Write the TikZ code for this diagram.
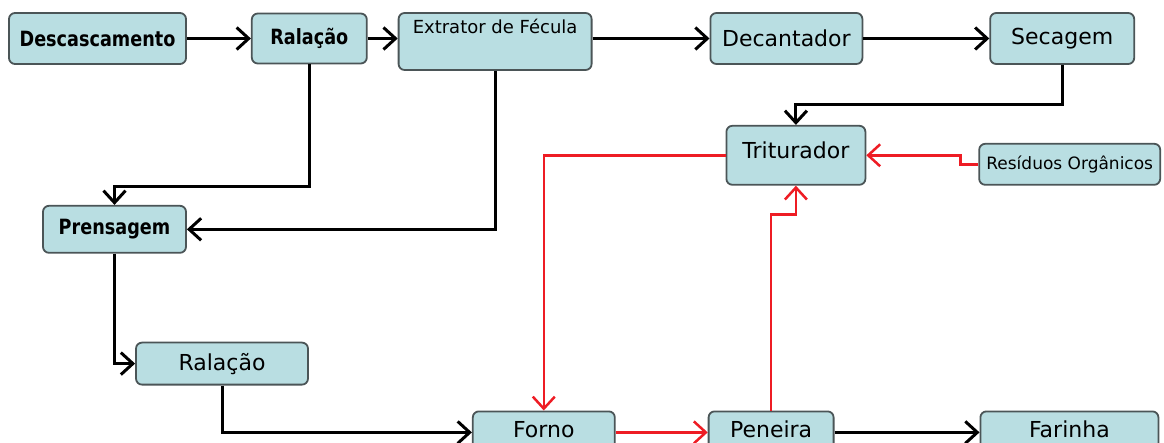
\documentclass[tikz,border=0pt]{standalone}
\usepackage{fontspec}
\setmainfont{DejaVu Sans}
\newfontfamily\condbold[FakeStretch=0.84]{DejaVu Sans}
\usepackage{xcolor}
\definecolor{procfill}{HTML}{B9DEE2}
\definecolor{procline}{HTML}{4B5557}
\definecolor{procred}{HTML}{EE1C24}
\usepackage{tikz}
\usetikzlibrary{arrows.meta,positioning}
\tikzset{
  procbox/.style={draw=procline,line width=1.8pt,rounded corners=6pt,fill=procfill,inner sep=0pt,align=center,font=\fontsize{22}{26}\selectfont},
  procbold/.style={procbox,font=\condbold\bfseries\fontsize{21}{25}\selectfont},
  proclow/.style={procbox,minimum height=42pt,text height=16pt,text depth=6pt},
  procflow/.style={-{Straight Barb[length=12pt,width=22pt]},line width=3pt},
  procredflow/.style={procflow,draw=procred,line width=2.5pt},
}

\begin{document}
\begin{tikzpicture}[x=1pt,y=-1pt]
\clip (0,0) rectangle (1164,443);

\node[procbold,minimum width=177pt,minimum height=51pt] (desc) at (97.5,38.5) {Descascamento};
\node[procbold,minimum width=115pt,minimum height=50pt,right=64pt of desc] (ral1) {Ralação};
\node[procbox,minimum width=193pt,minimum height=57pt,text height=13pt,text depth=29pt,font=\fontsize{18}{21}\selectfont,right=30pt of ral1,yshift=-3pt] (extr) {Extrator de Fécula};
\node[procbox,minimum width=152pt,minimum height=51pt,right=117pt of extr,yshift=3pt] (dec) {Decantador};
\node[procbox,minimum width=144pt,minimum height=51pt,right=126pt of dec] (sec) {Secagem};
\node[procbox,minimum width=139pt,minimum height=59pt,text height=16pt,text depth=10pt,below=60pt of dec,xshift=9.5pt] (trit) {Triturador};
\node[procbox,minimum width=181pt,minimum height=41pt,font=\fontsize{17}{20}\selectfont,right=112pt of trit,yshift=-9pt] (res) {Resíduos Orgânicos};
\node[procbold,minimum width=143pt,minimum height=47pt,below=140pt of desc,xshift=17pt] (prens) {Prensagem};
\node[procbox,minimum width=172pt,minimum height=42pt,below=88pt of prens,xshift=107.5pt] (ral2) {Ralação};
\node[proclow,minimum width=142pt,below right=25pt and 163pt of ral2] (forno) {Forno};
\node[proclow,minimum width=125pt,right=92pt of forno] (pen) {Peneira};
\node[proclow,minimum width=178pt,right=145pt of pen] (far) {Farinha};

% main line
\draw[procflow] (desc) -- (ral1);
\draw[procflow] (ral1) -- (extr.west |- ral1);
\draw[procflow] (extr.east |- dec) -- (dec);
\draw[procflow] (dec) -- (sec);
\draw[procflow] (sec.south) -- ++(0,40) -| (trit.north);
\draw[procflow] (ral1.south) -- ++(0,122) -| (prens.north);
\draw[procflow] (extr.south) |- (prens.east);
\draw[procflow] (prens.south) |- (ral2.west);
\draw[procflow] (ral2.south) |- (forno.west);
\draw[procflow] (pen) -- (far);
% red loop
\draw[procredflow] (trit.west) -| (forno.north);
\draw[procredflow] (forno) -- (pen);
\draw[procredflow] (res.west) -- ++(-18,0) |- (trit.east);
\draw[procredflow] (pen.north) -- ++(0,-196) -| (trit.south);
\end{tikzpicture}
\end{document}
